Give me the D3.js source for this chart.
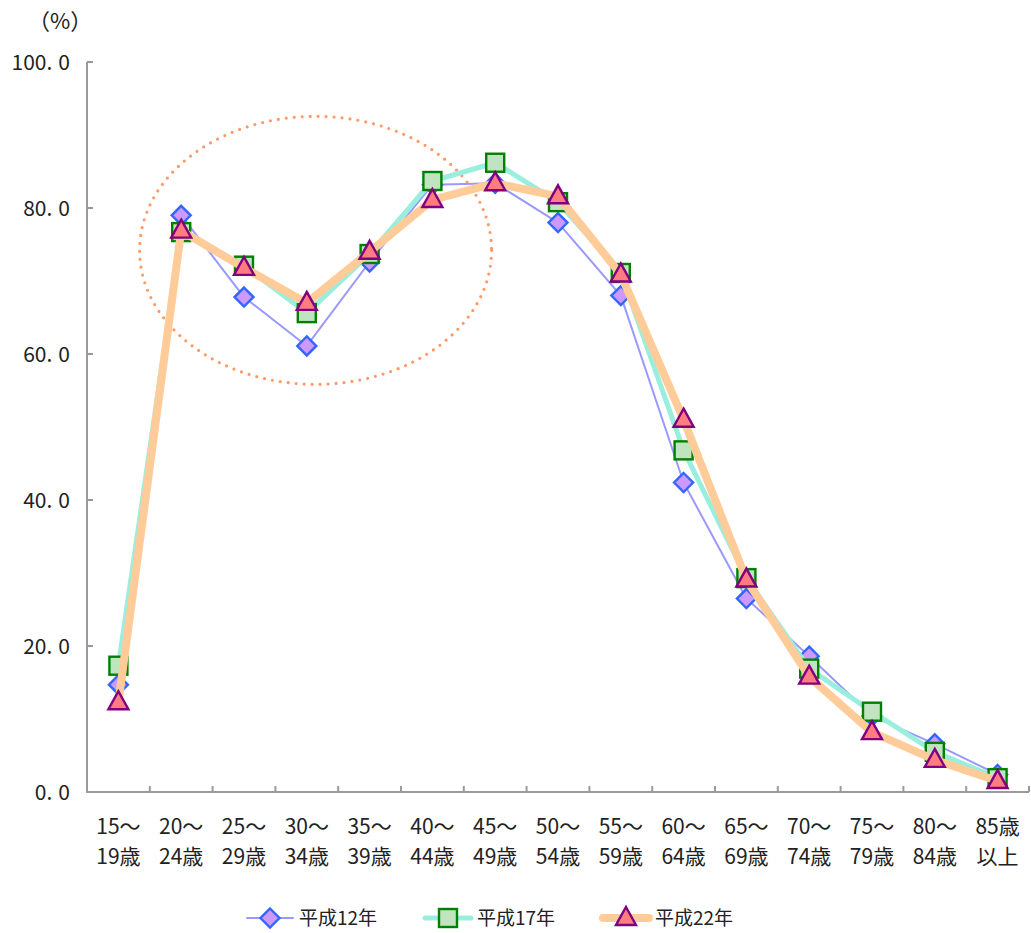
<!DOCTYPE html>
<head>
<meta charset="utf-8">
<style>
    body { margin: 0; background: #fff; }
    text { font-family: "Noto Sans CJK JP", "Noto Sans", sans-serif; fill: #222; }
</style>
</head>
<body>
<script src="https://d3js.org/d3.v7.min.js"></script>
<script>

// ---------- data ----------
const ageTop = ['15〜', '20〜', '25〜', '30〜', '35〜', '40〜', '45〜', '50〜', '55〜', '60〜', '65〜', '70〜', '75〜', '80〜', '85歳'];
const ageBottom = ['19歳', '24歳', '29歳', '34歳', '39歳', '44歳', '49歳', '54歳', '59歳', '64歳', '69歳', '74歳', '79歳', '84歳', '以上'];
const seriesNames = ['平成12年', '平成17年', '平成22年'];
const h12 = [14.7, 79.0, 67.8, 61.1, 72.6, 83.2, 83.4, 78.0, 68.0, 42.4, 26.5, 18.6, 10.4, 6.6, 2.4];
const h17 = [17.3, 76.7, 72.1, 65.6, 73.7, 83.7, 86.2, 80.8, 71.1, 46.8, 29.3, 16.9, 11.0, 5.5, 1.9];
const h22 = [12.3, 76.9, 71.8, 67.0, 74.0, 81.1, 83.4, 81.6, 70.9, 51.0, 29.1, 15.8, 8.2, 4.4, 1.5];
const yTicks = [0, 20, 40, 60, 80, 100];

// ---------- setup ----------
const W = 1031, H = 933;
const plotL = 87, plotR = 1029, plotT = 62, plotB = 792;

const svg = d3.select('body').append('svg')
    .attr('width', W)
    .attr('height', H);

const cats = ageTop.map((d, i) => i);
const x = d3.scaleBand().domain(cats).range([plotL, plotR]).padding(0);
const cx = i => x(i) + x.bandwidth() / 2;
const y = d3.scaleLinear().domain([0, 100]).range([plotB, plotT]);

// ---------- axes ----------
const axisColor = '#9a9a9a';
svg.append('line')
    .attr('x1', plotL).attr('x2', plotL)
    .attr('y1', y(100)).attr('y2', y(0))
    .attr('stroke', axisColor).attr('stroke-width', 2);
svg.append('line')
    .attr('x1', plotL - 1).attr('x2', plotR)
    .attr('y1', y(0)).attr('y2', y(0))
    .attr('stroke', axisColor).attr('stroke-width', 2);

yTicks.forEach(v => {
    svg.append('line')
        .attr('x1', plotL).attr('x2', plotL + 6)
        .attr('y1', y(v)).attr('y2', y(v))
        .attr('stroke', axisColor).attr('stroke-width', 2);
    const s = d3.format('.1f')(v).split('.');
    const t = svg.append('text')
        .attr('x', 70).attr('y', y(v) + 8)
        .attr('text-anchor', 'end')
        .style('font-size', '21px');
    t.append('tspan').text(s[0] + '.');
    t.append('tspan').attr('dx', 6).text(s[1]);
});

svg.append('text')
    .attr('x', 28).attr('y', 29)
    .style('font-size', '22px')
    .text('（%）');

cats.forEach(i => {
    const bx = x(i) + x.bandwidth();
    svg.append('line')
        .attr('x1', bx).attr('x2', bx)
        .attr('y1', y(0)).attr('y2', y(0) - 6)
        .attr('stroke', axisColor).attr('stroke-width', 2);
    svg.append('text')
        .attr('x', cx(i)).attr('y', 834)
        .attr('text-anchor', 'middle')
        .style('font-size', '21px')
        .text(ageTop[i]);
    svg.append('text')
        .attr('x', cx(i)).attr('y', 864)
        .attr('text-anchor', 'middle')
        .style('font-size', '21px')
        .text(ageBottom[i]);
});

// ---------- annotation ellipse ----------
svg.append('ellipse')
    .attr('cx', x(3) + x.bandwidth() * 0.64)
    .attr('cy', y(74.2))
    .attr('rx', 176).attr('ry', 134)
    .attr('fill', 'none')
    .attr('stroke', '#ff9966')
    .attr('stroke-width', 3.2)
    .attr('stroke-linecap', 'round')
    .attr('stroke-dasharray', '0 8');

// ---------- series ----------
const styles = [
    { line: '#9999ff', lw: 2, fill: '#cc99ff', stroke: '#3366ff', shape: 'diamond' },
    { line: '#99eedd', lw: 5, fill: '#c0e4c0', stroke: '#008000', shape: 'square' },
    { line: '#ffcc99', lw: 8, fill: '#ff7c80', stroke: '#800080', shape: 'triangle' }
];
const values = [h12, h17, h22];

const line = d3.line()
    .x((d, i) => cx(i))
    .y(d => y(d));

function marker(g, shape, st) {
    if (shape === 'diamond') {
        g.append('path').attr('d', 'M0,-9.5L9.5,0L0,9.5L-9.5,0Z');
    } else if (shape === 'square') {
        g.append('rect').attr('x', -9).attr('y', -9).attr('width', 18).attr('height', 18);
    } else {
        g.append('path').attr('d', 'M0,-11L10,7L-10,7Z');
    }
    g.selectAll('*')
        .attr('fill', st.fill)
        .attr('stroke', st.stroke)
        .attr('stroke-width', 2.4)
        .attr('stroke-linejoin', 'miter');
}

values.forEach((vals, s) => {
    const st = styles[s];
    const g = svg.append('g');
    g.append('path')
        .attr('d', line(vals))
        .attr('fill', 'none')
        .attr('stroke', st.line)
        .attr('stroke-width', st.lw)
        .attr('stroke-linejoin', 'round');
    vals.forEach((v, i) => {
        const m = g.append('g').attr('transform', 'translate(' + cx(i) + ',' + y(v) + ')');
        marker(m, st.shape, st);
    });
});

// ---------- legend ----------
const legendX = [247, 425, 603];
seriesNames.forEach((name, s) => {
    const st = styles[s];
    const g = svg.append('g').attr('transform', 'translate(' + legendX[s] + ',918)');
    g.append('line')
        .attr('x1', 0).attr('x2', 46)
        .attr('stroke', st.line)
        .attr('stroke-width', st.lw)
        .attr('stroke-linecap', 'round');
    const m = g.append('g').attr('transform', 'translate(23,0)');
    marker(m, st.shape, st);
    g.append('text')
        .attr('x', 52).attr('y', 7)
        .style('font-size', '19px')
        .text(name);
});

</script>
</body>
